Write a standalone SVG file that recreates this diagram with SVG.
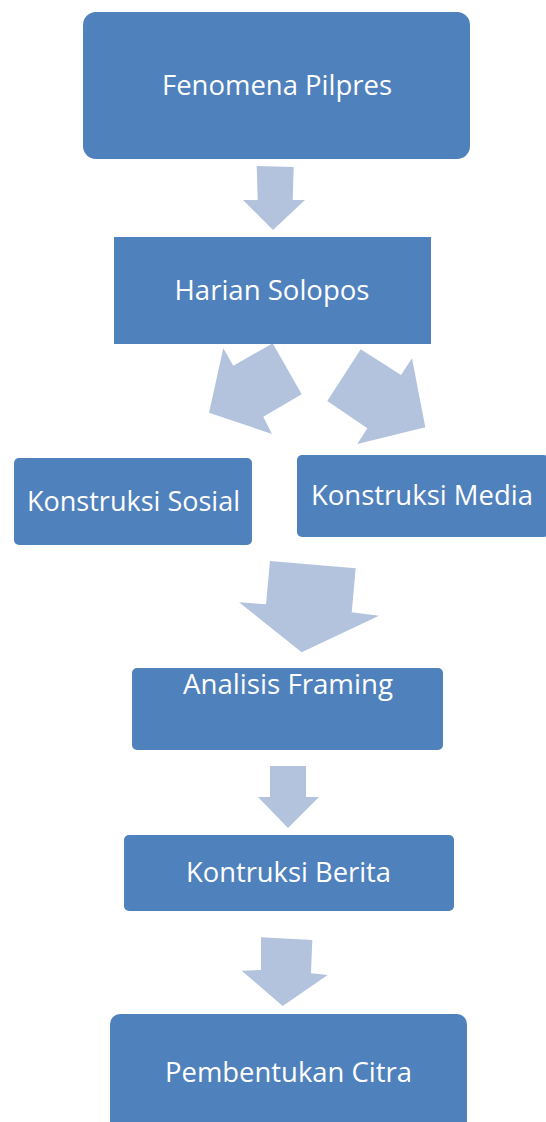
<svg xmlns="http://www.w3.org/2000/svg" width="546" height="1122" viewBox="0 0 546 1122">
<style>
.box{fill:#4f81bd;}
.arr{fill:#b3c3de;}
.t{fill:#ffffff;font-family:"Open Sans","Liberation Sans",sans-serif;font-size:27px;text-anchor:middle;}
</style>
<rect width="546" height="1122" fill="#ffffff"/>
<g id="connectors">
<polygon class="arr" points="256.7,166 293.7,167 292.7,200 305,200 273,230 243,200 257.7,200"/>
<polygon class="arr" points="223.3,348.3 233.3,365.7 272.7,343.3 301.7,394.3 263.3,416.7 272,434 209,412.7"/>
<polygon class="arr" points="360.7,349.3 401,375 412,358.3 425.3,427.3 357.3,444 367.3,428.3 327.3,401"/>
<polygon class="arr" points="270,561 355.7,568.3 351.7,612.3 379,615.7 301.7,652.3 239,602.3 266,604.3"/>
<polygon class="arr" points="270,766 306,766 306,797 319,797 288,828 258,797 270,797"/>
<polygon class="arr" points="261,937.3 312.3,940 311,973.3 327.7,975 282.7,1006 241.7,970.7 261,970"/>
</g>
<g id="n1">
<rect class="box" x="83" y="12" width="387" height="147" rx="13"/>
<text class="t" x="277" y="95" textLength="230" lengthAdjust="spacingAndGlyphs">Fenomena Pilpres</text>
</g>
<g id="n2">
<rect class="box" x="114" y="237" width="317" height="107"/>
<text class="t" x="272" y="300" textLength="195" lengthAdjust="spacingAndGlyphs">Harian Solopos</text>
</g>
<g id="n3">
<rect class="box" x="14" y="458" width="238" height="87" rx="5"/>
<text class="t" x="133.5" y="511" textLength="213" lengthAdjust="spacingAndGlyphs">Konstruksi Sosial</text>
</g>
<g id="n4">
<rect class="box" x="297" y="455" width="252" height="82" rx="5"/>
<text class="t" x="422" y="505" textLength="222" lengthAdjust="spacingAndGlyphs">Konstruksi Media</text>
</g>
<g id="n5">
<rect class="box" x="132" y="668" width="311" height="82" rx="5"/>
<text class="t" x="288" y="694" textLength="210" lengthAdjust="spacingAndGlyphs">Analisis Framing</text>
</g>
<g id="n6">
<rect class="box" x="124" y="835" width="330" height="76" rx="5"/>
<text class="t" x="288.5" y="882" textLength="205" lengthAdjust="spacingAndGlyphs">Kontruksi Berita</text>
</g>
<g id="n7">
<rect class="box" x="110" y="1014" width="357" height="130" rx="10"/>
<text class="t" x="288.5" y="1082" textLength="247" lengthAdjust="spacingAndGlyphs">Pembentukan Citra</text>
</g>
</svg>
